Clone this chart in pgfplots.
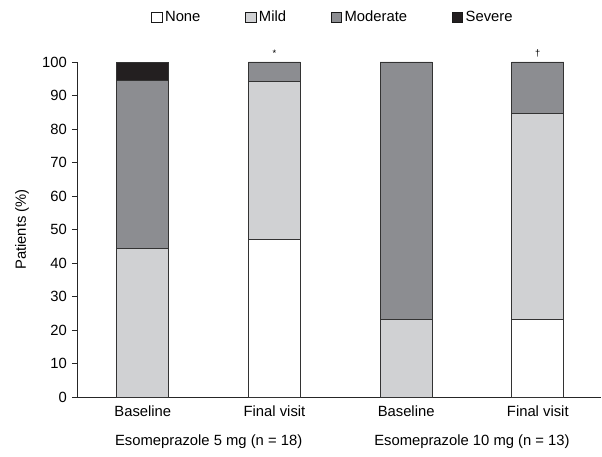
\documentclass[border=0pt]{standalone}
\usepackage{pgfplots}
\pgfplotsset{compat=1.18}
\usepackage{fontspec}
\setmainfont{Liberation Sans}
\definecolor{cmild}{HTML}{D0D1D3}
\definecolor{cmod}{HTML}{8C8D91}
\definecolor{csev}{HTML}{231F20}
\newcommand{\ff}{\fontsize{11.1}{13}\selectfont}
\begin{document}
\ff
\begin{tikzpicture}
\begin{axis}[
  scale only axis,
  width=393pt, height=251.25pt,
  ybar stacked,
  bar width=0.395,
  xmin=-0.5, xmax=3.48,
  ymin=0, ymax=100,
  axis x line*=bottom, axis y line*=left,
  axis line style={black!85, line width=0.6pt},
  xtick={0,1,2,3},
  xticklabels={Baseline, Final visit, Baseline, Final visit},
  xtick style={draw=none},
  ytick={0,10,...,100},
  ytick style={black!85, line width=0.6pt},
  tick align=outside,
  major tick length=3.75pt,
  /pgf/number format/assume math mode=true,
  ticklabel style={font=\ff},
  xticklabel style={yshift=1pt},
  ylabel={Patients (\%)},
  ylabel style={at={(rel axis cs:0,0.5)}, anchor=center, rotate=0, yshift=41.25pt, font=\ff},
  legend columns=4,
  legend style={draw=none, at={(rel axis cs:0.489,1)}, anchor=center, yshift=33.25pt,
    /tikz/every even column/.append style={column sep=31.5pt},
    font=\ff, inner sep=0pt},
  clip=false,
  sq/.style={legend image code/.code={\draw[##1, draw=black!90, line width=0.6pt] (0pt,-3.8pt) rectangle (7.8pt,4pt);}},
]
\addplot[sq, fill=white, draw=black!80, line width=0.6pt] coordinates {(0,0) (1,47.06) (2,0) (3,23.08)};
\addplot[sq, fill=cmild, draw=black!80, line width=0.6pt] coordinates {(0,44.44) (1,47.06) (2,23.08) (3,61.54)};
\addplot[sq, fill=cmod, draw=black!80, line width=0.6pt] coordinates {(0,50) (1,5.88) (2,76.92) (3,15.38)};
\addplot[sq, fill=csev, draw=black!80, line width=0.6pt] coordinates {(0,5.56) (1,0) (2,0) (3,0)};
\legend{None, Mild, Moderate, Severe}
\node[anchor=center, yshift=-33.5pt] at (axis cs:0.5,0) {Esomeprazole 5 mg (n = 18)};
\node[anchor=center, yshift=-33.5pt] at (axis cs:2.5,0) {Esomeprazole 10 mg (n = 13)};
\node[anchor=south, yshift=0pt, font=\fontsize{7}{8}\selectfont] at (axis cs:1,100) {*};
\node[anchor=south, yshift=0pt, font=\fontsize{7}{8}\selectfont] at (axis cs:3,100) {†};
\coordinate (bbll) at ([xshift=-57.75pt, yshift=-45pt]rel axis cs:0,0);
\coordinate (bbur) at ([xshift=0.75pt, yshift=46.5pt]rel axis cs:1,1);
\end{axis}
\pgfresetboundingbox
\path[use as bounding box] (bbll) rectangle (bbur);
\end{tikzpicture}
\end{document}
